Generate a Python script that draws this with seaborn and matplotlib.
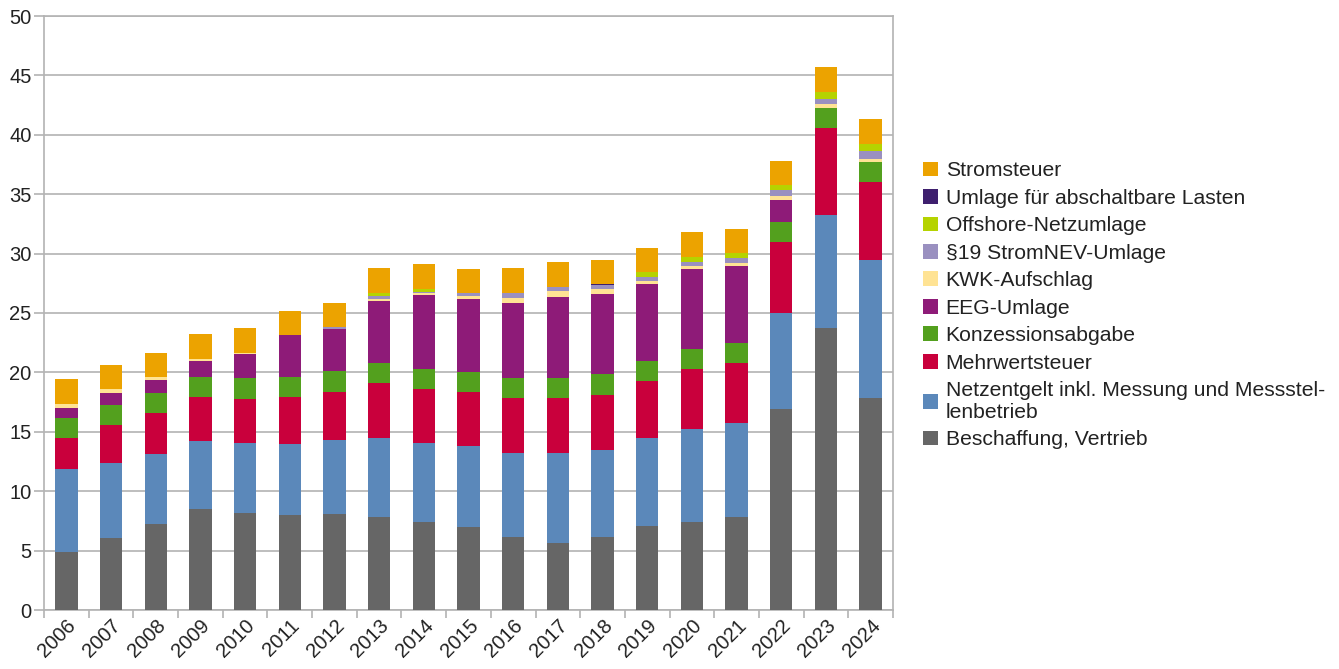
import numpy as np
import pandas as pd
import matplotlib
matplotlib.use("Agg")
import matplotlib.pyplot as plt
from matplotlib.patches import Patch
from matplotlib.ticker import FixedLocator
import seaborn as sns

years = [str(y) for y in range(2006, 2025)]

beschaffung = [4.90, 6.09, 7.21, 8.47, 8.14, 8.00, 8.08, 7.86, 7.38, 7.01, 6.17, 5.67, 6.17, 7.07, 7.44, 7.86, 16.92, 23.71, 17.88]
netzentgelt = [6.94, 6.26, 5.89, 5.78, 5.95, 5.95, 6.22, 6.65, 6.65, 6.79, 7.07, 7.57, 7.30, 7.38, 7.77, 7.85, 8.05, 9.54, 11.58]
mehrwertsteuer = [2.61, 3.22, 3.45, 3.65, 3.64, 3.95, 4.02, 4.57, 4.54, 4.52, 4.64, 4.64, 4.63, 4.86, 5.08, 5.05, 6.03, 7.29, 6.54]
konzession = [1.75, 1.69, 1.69, 1.74, 1.77, 1.74, 1.80, 1.68, 1.72, 1.68, 1.62, 1.62, 1.74, 1.68, 1.68, 1.69, 1.69, 1.68, 1.68]
eeg = [0.84, 1.00, 1.12, 1.32, 2.02, 3.48, 3.51, 5.25, 6.24, 6.17, 6.35, 6.88, 6.79, 6.41, 6.76, 6.50, 1.82, 0.00, 0.00]
kwk = [0.34, 0.33, 0.22, 0.19, 0.13, 0.03, 0.05, 0.13, 0.18, 0.25, 0.45, 0.44, 0.35, 0.28, 0.23, 0.25, 0.38, 0.36, 0.28]
stromnev19 = [0.00, 0.00, 0.00, 0.00, 0.00, 0.00, 0.15, 0.33, 0.09, 0.24, 0.38, 0.39, 0.37, 0.31, 0.36, 0.43, 0.44, 0.42, 0.64]
offshore = [0.00, 0.00, 0.00, 0.00, 0.00, 0.00, 0.00, 0.25, 0.25, 0.00, 0.04, 0.00, 0.04, 0.42, 0.42, 0.40, 0.42, 0.62, 0.66]
abschaltbar = [0.00, 0.00, 0.00, 0.00, 0.00, 0.00, 0.00, 0.00, 0.01, 0.01, 0.00, 0.01, 0.01, 0.01, 0.01, 0.01, 0.00, 0.00, 0.00]
stromsteuer = [2.05] * 19

series_names = [
    "Beschaffung, Vertrieb",
    "Netzentgelt inkl. Messung und Messstel-\nlenbetrieb",
    "Mehrwertsteuer",
    "Konzessionsabgabe",
    "EEG-Umlage",
    "KWK-Aufschlag",
    "§19 StromNEV-Umlage",
    "Offshore-Netzumlage",
    "Umlage für abschaltbare Lasten",
    "Stromsteuer",
]
series_values = [beschaffung, netzentgelt, mehrwertsteuer, konzession, eeg,
                 kwk, stromnev19, offshore, abschaltbar, stromsteuer]
colors = ["#666666", "#5B88BA", "#C9003C", "#53A01E", "#8E1B78",
          "#FFE394", "#9A90C0", "#B5D300", "#3E1F6E", "#ECA300"]

df = pd.DataFrame({"year": years})
for name, vals in zip(series_names, series_values):
    df[name] = vals
cum = df[series_names].cumsum(axis=1)

sns.set_style("white")
plt.rcParams["font.family"] = ["Liberation Sans", "DejaVu Sans"]

fig = plt.figure(figsize=(13.39, 6.69), dpi=100)
ax = fig.add_axes([44 / 1339, 59 / 669, (893 - 44) / 1339, (653 - 59) / 669])

# draw stacked bars: cumulative totals from top layer to bottom layer
for name, col in reversed(list(zip(series_names, colors))):
    sns.barplot(x=df["year"], y=cum[name], color=col, width=0.5,
                saturation=1, ax=ax, linewidth=0, zorder=3)

ax.set_ylim(0, 50)
ax.set_xlim(-0.5, len(years) - 0.5)
ax.set_yticks(np.arange(0, 51, 5))
ax.set_xlabel("")
ax.set_ylabel("")
ax.yaxis.grid(True, color="#b3b3b3", linewidth=1.2, zorder=0)
ax.set_axisbelow(True)
for sp in ax.spines.values():
    sp.set_visible(True)
    sp.set_color("#b3b3b3")
    sp.set_linewidth(1.2)

ax.tick_params(axis="y", which="major", length=7, width=1.2, color="#b3b3b3",
               labelsize=14.5, pad=2, labelcolor="#222222", left=True)
ax.tick_params(axis="x", which="major", length=0, labelsize=14.5,
               labelcolor="#222222", pad=4)
ax.xaxis.set_minor_locator(FixedLocator(np.arange(-0.5, len(years), 1.0)))
ax.tick_params(axis="x", which="minor", length=6, width=1.2, color="#b3b3b3",
               bottom=True)
ax.set_xticks(range(len(years)))
ax.set_xticklabels(years, rotation=45, ha="right", rotation_mode="anchor")

handles = [Patch(facecolor=c, edgecolor="none", label=n)
           for n, c in zip(series_names, colors)][::-1]
leg = fig.legend(handles=handles, loc="upper left",
                 bbox_to_anchor=(915 / 1339, 1 - 153 / 669),
                 frameon=False, fontsize=15.2, handlelength=0.7,
                 handleheight=0.7, handletextpad=0.35, labelspacing=0.40,
                 borderaxespad=0)
for t in leg.get_texts():
    t.set_color("#222222")
    t.set_linespacing(1.2)

fig.savefig("out.png", dpi=100)
